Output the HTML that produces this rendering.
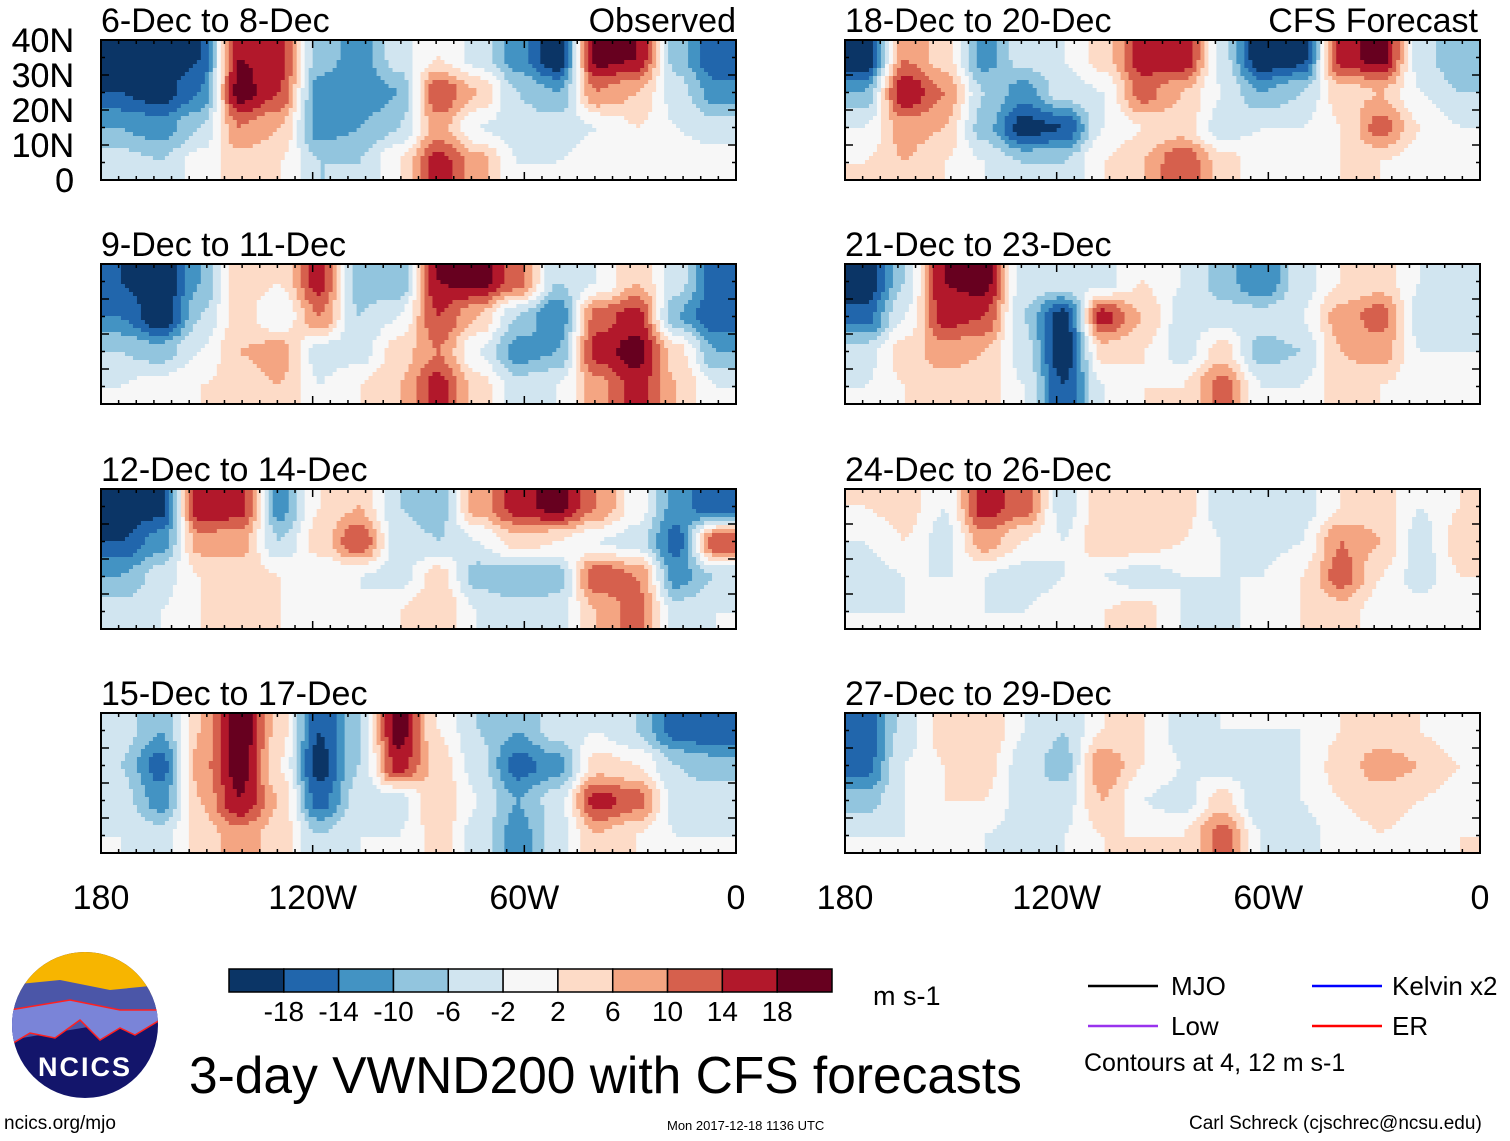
<!DOCTYPE html>
<html><head><meta charset="utf-8">
<style>
body{margin:0;background:#fff;width:1510px;height:1141px;overflow:hidden;position:relative;font-family:"Liberation Sans",sans-serif;}
.t{position:absolute;white-space:nowrap;color:#000;line-height:1;}
svg{position:absolute;left:0;top:0;}
</style></head><body>
<svg id="main" width="1510" height="1141" viewBox="0 0 1510 1141"></svg>

<div class="t" style="left:4px;top:1114px;font-size:19px">ncics.org/mjo</div>
<div class="t" style="left:667px;top:1119px;font-size:13px">Mon 2017-12-18 1136 UTC</div>
<div class="t" style="left:1189px;top:1114px;font-size:19px">Carl Schreck (cjschrec@ncsu.edu)</div>
<div class="t" style="left:189px;top:1050px;font-size:51.5px">3-day VWND200 with CFS forecasts</div>
<div class="t" style="left:873px;top:983px;font-size:27px">m s-1</div>
<div class="t" style="left:1084px;top:1051px;font-size:25px">Contours at 4, 12 m s-1</div>
<div class="t" style="left:1171px;top:973px;font-size:26px">MJO</div>
<div class="t" style="left:1171px;top:1013px;font-size:26px">Low</div>
<div class="t" style="left:1392px;top:973px;font-size:26px">Kelvin x2</div>
<div class="t" style="left:1392px;top:1013px;font-size:26px">ER</div>

<script>
const categoriesLon = ["180","120W","60W","0"];
const latLabels = ["40N","30N","20N","10N","0"];
const cbarLabels = ["-18","-14","-10","-6","-2","2","6","10","14","18"];
const levels = [-18,-14,-10,-6,-2,2,6,10,14,18];
const panelTitles = ["6-Dec to 8-Dec","9-Dec to 11-Dec","12-Dec to 14-Dec","15-Dec to 17-Dec","18-Dec to 20-Dec","21-Dec to 23-Dec","24-Dec to 26-Dec","27-Dec to 29-Dec"];
// each panel: 16 longitude columns (180 -> 0), each column = [40-30N,30-20N,20-10N,10-0N]
const p1 = [[-22,-18,-10,-4],[-22,-20,-12,-6],[-18,-14,-6,0],[18,20,10,4],[16,14,6,2],[-8,-12,-12,-6],[-12,-14,-10,-6],[-4,-10,-6,2],[2,14,8,16],[-4,6,-2,8],[-12,-6,-4,-2],[-22,-10,-4,-2],[20,10,-2,0],[18,6,2,0],[-8,-4,-2,0],[-18,-12,-4,0]];
const p2 = [[-18,-14,-6,-2],[-22,-22,-8,0],[-10,-6,-2,2],[4,4,6,4],[2,-2,8,6],[16,10,-4,-2],[-8,-6,-4,2],[-10,-2,4,6],[18,14,10,16],[20,6,-2,4],[12,-6,-12,-4],[-6,-14,-10,-2],[-2,12,16,8],[6,16,20,16],[-4,-10,4,6],[-16,-18,-10,-2]];
const p3 = [[-22,-18,-10,-4],[-20,-12,-4,-2],[18,8,2,2],[16,8,4,2],[-12,-6,2,2],[2,4,-2,0],[6,14,-2,-2],[-6,-4,-4,2],[-8,-6,4,6],[8,-2,-8,-2],[16,4,-10,-4],[20,2,-8,-4],[10,-2,14,6],[0,-4,10,12],[-12,-16,-12,-4],[-18,14,-6,-2]];
const p4 = [[-4,-6,-4,-2],[-10,-16,-12,-4],[6,8,6,4],[22,20,18,8],[4,2,6,4],[-18,-20,-16,-6],[-6,-6,-4,-2],[20,16,-4,-2],[2,4,6,4],[-6,-4,-2,-4],[-10,-16,-10,-12],[-4,-12,-4,-4],[-2,4,16,6],[-6,2,12,2],[-16,-6,-4,-2],[-18,-8,-4,-2]];
const p5 = [[-22,-10,-2,2],[10,18,8,6],[4,10,6,2],[-12,-6,-8,-2],[-4,-12,-20,-6],[-2,-4,-18,-6],[4,-2,-2,2],[16,12,2,6],[18,6,4,14],[-4,-2,-4,4],[-22,-10,-2,0],[-20,-6,-2,0],[16,4,2,2],[20,6,12,2],[-4,-2,2,0],[-10,-6,-2,0]];
const p6 = [[-22,-16,-4,-2],[-6,-2,4,2],[18,16,8,4],[20,14,6,4],[-4,-6,-4,-2],[-2,-20,-22,-18],[-4,16,4,-2],[2,6,2,2],[-2,-4,-4,2],[-8,-4,4,12],[-14,-4,-8,-2],[-4,-2,-6,-2],[2,8,6,4],[4,12,8,2],[-2,-4,-2,0],[-6,-4,-2,0]];
const p7 = [[2,-2,-4,-2],[4,2,-2,-2],[-2,-4,-2,-2],[16,8,-2,-2],[12,2,-4,-2],[-4,-2,-2,0],[4,6,-2,2],[6,4,-4,4],[4,2,-2,-2],[-4,-2,-2,-4],[-6,-4,-2,0],[-4,-2,2,2],[2,10,12,4],[4,6,2,0],[-2,-4,-4,0],[2,4,2,0]];
const p8 = [[-18,-16,-8,-2],[-4,-2,-2,-2],[4,2,2,2],[6,4,2,-2],[-2,-4,-4,-4],[-6,-8,-4,-2],[2,10,6,2],[2,2,-2,2],[-4,-2,-4,2],[-2,-4,4,12],[-2,-4,-6,-2],[-2,-2,-2,-4],[2,4,2,0],[4,8,4,2],[2,6,2,0],[-2,2,0,2]];
const panelsData = [p1,p2,p3,p4,p5,p6,p7,p8];

const colors = ["#0b3566","#2166ac","#4393c3","#92c5de","#d1e5f0","#f7f7f7","#fddbc7","#f4a582","#d6604d","#b2182b","#67001f"];
const NS="http://www.w3.org/2000/svg";
const svg=document.getElementById('main');
function mk(tag,attrs,parent){const e=document.createElementNS(NS,tag);for(const k in attrs)e.setAttribute(k,attrs[k]);(parent||svg).appendChild(e);return e;}
function colorFor(v){let i=0;while(i<levels.length&&v>=levels[i])i++;return colors[i];}

const colX=[101,845], rowY=[40,264,489,713], PW=635, PH=140;
function xScale(x0,lonFrac){return x0+lonFrac*PW;}
function yScale(y0,latFrac){return y0+latFrac*PH;}
function sample(d,u,v){
  const nc=d.length,nr=d[0].length;
  let cx=Math.min(Math.max(u-0.5,0),nc-1), cy=Math.min(Math.max(v-0.5,0),nr-1);
  const i0=Math.floor(cx),j0=Math.floor(cy),i1=Math.min(i0+1,nc-1),j1=Math.min(j0+1,nr-1);
  let fx=cx-i0,fy=cy-j0;
  fx=fx*fx*(3-2*fx); fy=fy*fy*(3-2*fy);
  const a=d[i0][j0]*(1-fx)+d[i1][j0]*fx, b=d[i0][j1]*(1-fx)+d[i1][j1]*fx;
  return a*(1-fy)+b*fy;
}

panelsData.forEach((d,p)=>{
  const x0=colX[Math.floor(p/4)], y0=rowY[p%4];
  const g=mk('g',{});
  
  
  const step=4, nx=Math.ceil(PW/step), ny=Math.ceil(PH/step);
  for(let j=0;j<ny;j++){
    let runStart=0, runCol=null;
    for(let i=0;i<=nx;i++){
      let c=null;
      if(i<nx){const u=(i+0.5)/nx*d.length, v=(j+0.5)/ny*d[0].length; c=colorFor(sample(d,u,v));}
      if(c!==runCol){
        if(runCol!==null){
          const r=mk('rect',{x:xScale(x0,runStart/nx),y:yScale(y0,j/ny),width:(i-runStart)/nx*PW+0.6,height:PH/ny+0.6,fill:runCol},g);
          
          
        }
        runStart=i; runCol=c;
      }
    }
  }
  const b=mk('rect',{x:x0,y:y0,width:PW,height:PH,fill:'none',stroke:'#000','stroke-width':2});
  
  
  for(let k=0;k<=36;k++){const tx=xScale(x0,k/36),len=(k%12===0)?8:4;
    mk('line',{x1:tx,x2:tx,y1:y0+PH,y2:y0+PH-len,stroke:'#000','stroke-width':1.5});
    mk('line',{x1:tx,x2:tx,y1:y0,y2:y0+len,stroke:'#000','stroke-width':1.5});}
  for(let k=0;k<=8;k++){const ty=yScale(y0,k/8),len=(k%2===0)?8:4;
    mk('line',{x1:x0,x2:x0+len,y1:ty,y2:ty,stroke:'#000','stroke-width':1.5});
    mk('line',{x1:x0+PW,x2:x0+PW-len,y1:ty,y2:ty,stroke:'#000','stroke-width':1.5});}
  const t=mk('text',{x:x0,y:y0-8,'font-size':34,'font-family':'Liberation Sans'});t.textContent=panelTitles[p];
  
  
  if(p%4===0){
    latLabels.forEach((l,k)=>{const tt=mk('text',{x:74,y:yScale(y0,k/4)+12,'font-size':34,'text-anchor':'end','font-family':'Liberation Sans'});tt.textContent=l;
      
      });
  }
  if(p%4===3){
    categoriesLon.forEach((l,k)=>{const tt=mk('text',{x:xScale(x0,k/3),y:909,'font-size':34,'text-anchor':'middle','font-family':'Liberation Sans'});tt.textContent=l;
      
      });
  }
});
const o=mk('text',{x:736,y:32,'font-size':34,'text-anchor':'end','font-family':'Liberation Sans'});o.textContent="Observed";


const f=mk('text',{x:1478,y:32,'font-size':34,'text-anchor':'end','font-family':'Liberation Sans'});f.textContent="CFS Forecast";



const cbX=229,cbY=969,cbW=603,cbH=23,bw=cbW/colors.length;
colors.forEach((c,i)=>{const r=mk('rect',{x:cbX+i*bw,y:cbY,width:bw,height:cbH,fill:c,stroke:'#000','stroke-width':1.5});
  
  });
cbarLabels.forEach((l,i)=>{const tt=mk('text',{x:cbX+(i+1)*bw,y:1021,'font-size':28,'text-anchor':'middle','font-family':'Liberation Sans'});tt.textContent=l;
  
  });

[[1088,986,'#000'],[1088,1026,'#9933ee'],[1312,986,'#0000ff'],[1312,1026,'#ff0000']].forEach(a=>{
  const l=mk('line',{x1:a[0],x2:a[0]+70,y1:a[1],y2:a[1],stroke:a[2],'stroke-width':2.5});
  
  });

const lg=mk('g',{});


mk('defs',{},lg).innerHTML='<clipPath id="lc"><circle cx="85" cy="1025" r="73"/></clipPath>';
const lc=mk('g',{'clip-path':'url(#lc)'},lg);
mk('rect',{x:10,y:950,width:150,height:150,fill:'#13156b'},lc);
mk('rect',{x:10,y:950,width:150,height:45,fill:'#f7b500'},lc);
mk('path',{d:'M10 985 L60 980 L110 990 L160 985 L160 1015 L10 1040 Z',fill:'#4b56a8'},lc);
mk('path',{d:'M10 1010 L70 1000 L120 1010 L160 1010 L160 1020 L135 1035 L120 1028 L100 1040 L80 1020 L55 1038 L30 1033 L10 1045 Z',fill:'#7a84d8',stroke:'#ff2020','stroke-width':1.5},lc);
const nt=mk('text',{x:85,y:1076,'font-size':27,'font-weight':'bold','fill':'#fff','text-anchor':'middle','font-family':'Liberation Sans','letter-spacing':2},lg);nt.textContent="NCICS";
</script>
</body></html>
